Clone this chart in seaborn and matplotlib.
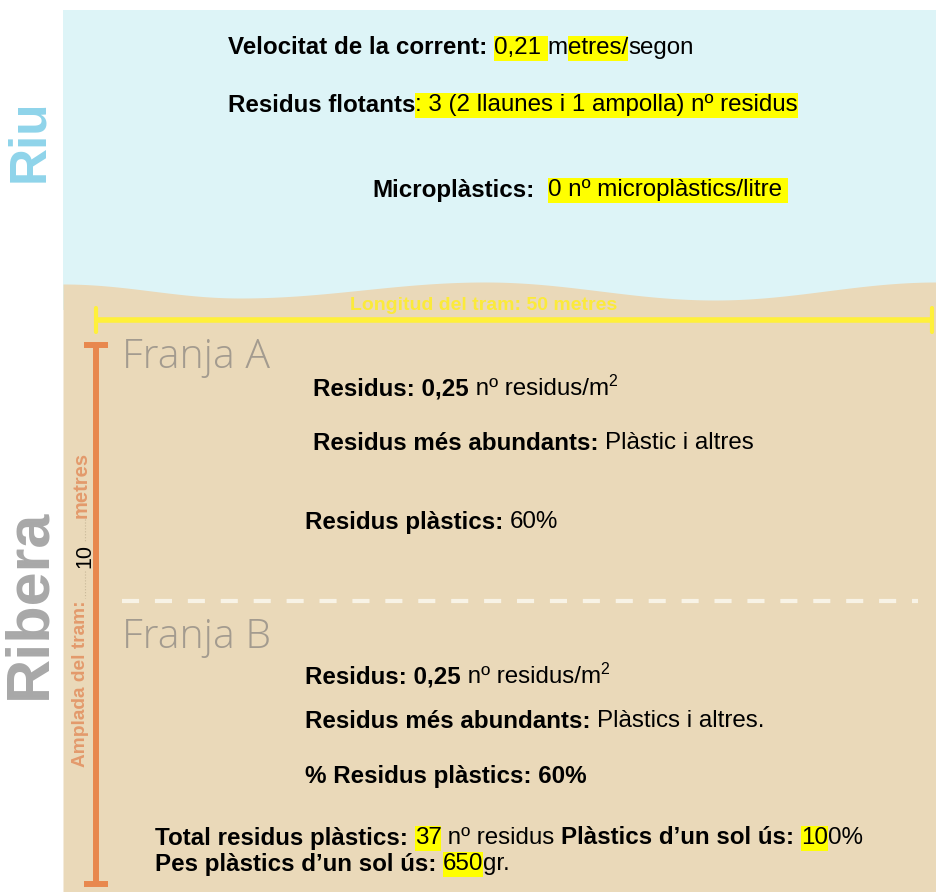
import matplotlib
matplotlib.use("Agg")
import matplotlib.pyplot as plt
import numpy as np
import pandas as pd
import seaborn as sns
from matplotlib.patches import Rectangle
from matplotlib.font_manager import FontProperties

# ---------------- data (text content of the infographic) ----------------
section_labels = ["Riu", "Ribera"]
strip_labels = ["Franja A", "Franja B"]
length_label = "Longitud del tram: 50 metres"
width_label = ["Amplada del tram:", "10", "metres"]

velocitat_value = "0,21"
residus_flotants_value = ": 3 (2 llaunes i 1 ampolla) nº residus"
microplastics_value = "0 nº microplàstics/litre"

franja_a_residus = "0,25"
franja_a_abundants = "Plàstic i altres"
franja_a_plastics = "60%"

franja_b_residus = "0,25"
franja_b_abundants = "Plàstics i altres."
franja_b_plastics = "60%"

total_plastics = "37"
single_use_pct = ["10", "0%"]
single_use_weight = "650"

# ---------------- setup ----------------
sns.set_theme(style="white")
FAMILY = ['Liberation Sans', 'DejaVu Sans']
plt.rcParams['font.family'] = FAMILY

W, H = 937, 892
fig = plt.figure(figsize=(W / 100, H / 100), dpi=100)
fig.patch.set_facecolor('white')
ax = fig.add_axes([0, 0, 1, 1])
ax.set_xlim(0, W)
ax.set_ylim(H, 0)
ax.axis('off')

BLUE = '#ddf4f7'
SAND = '#ead9b9'
YELLOW = '#ffff00'
BODY = 17.4
DY = 2

# river
ax.add_patch(Rectangle((63, 10), W - 63, 300, facecolor=BLUE, edgecolor='none', zorder=0))
# sand with wavy top
nodes_x = [63, 240, 485, 715, 937]
nodes_y = [284, 298, 282, 300, 282]
xs, ys = [], []
for i in range(len(nodes_x) - 1):
    t = np.linspace(0, 1, 80)
    xs.append(nodes_x[i] + (nodes_x[i + 1] - nodes_x[i]) * t)
    ys.append(nodes_y[i] + (nodes_y[i + 1] - nodes_y[i]) * (1 - np.cos(np.pi * t)) / 2)
xs = np.concatenate(xs)
ys = np.concatenate(ys)
ax.fill_between(xs, ys, H, color=SAND, linewidth=0, zorder=1)

renderer = fig.canvas.get_renderer()


def text_width(s, size, weight):
    fp = FontProperties(family=FAMILY, size=size, weight=weight)
    w1, _, _ = renderer.get_text_width_height_descent(s + '|', fp, ismath=False)
    w2, _, _ = renderer.get_text_width_height_descent('|', fp, ismath=False)
    return w1 - w2


def draw_runs(x, y, parts, size=BODY):
    y = y + DY
    for p in parts:
        text, bold = p[0], p[1]
        hl = p[2] if len(p) > 2 else False
        sup = p[3] if len(p) > 3 else False
        weight = 'bold' if bold else 'normal'
        fs = size * 0.66 if sup else size
        yy = y - 8 if sup else y
        w = text_width(text, fs, weight)
        if hl:
            ax.add_patch(Rectangle((x, y - 12), w, 25, facecolor=YELLOW,
                                   edgecolor='none', zorder=3))
        ax.text(x, yy, text, fontsize=fs, fontweight=weight, color='black',
                ha='left', va='center', zorder=4)
        x += w


# ---------------- river texts ----------------
draw_runs(228, 46, [("Velocitat de la corrent: ", True), (velocitat_value + " ", False, True),
                    ("m", False), ("etres/", False, True), ("segon", False)])
draw_runs(228, 103, [("Residus flotants", True), (residus_flotants_value, False, True)])
draw_runs(372, 188, [("Microplàstics:", True), ("  ", False),
                     (microplastics_value + " ", False, True)])

# ---------------- left side labels ----------------
ax.text(30, 141, section_labels[0], rotation=90, fontsize=37, fontweight='bold',
        color='#8fd4ea', ha='center', va='center', zorder=4)
ax.text(30, 604, section_labels[1], rotation=90, fontsize=44, fontweight='bold',
        color='#a8a8a8', ha='center', va='center', zorder=4)

# ---------------- yellow length arrow ----------------
ax.plot([96, 932], [320, 320], color='#fff03a', lw=4, solid_capstyle='butt', zorder=3)
ax.plot([96, 96], [308, 332], color='#fff03a', lw=3, zorder=3)
ax.plot([932, 932], [308, 332], color='#fff03a', lw=3, zorder=3)
ax.text(484, 306, length_label, fontsize=14, fontweight='bold', color='#fbea3a',
        ha='center', va='center', zorder=4)

# ---------------- orange width arrow ----------------
ax.plot([96, 96], [345, 884], color='#e8884e', lw=4.3, solid_capstyle='butt', zorder=3)
ax.plot([84, 108], [345, 345], color='#e8884e', lw=4.3, solid_capstyle='butt', zorder=3)
ax.plot([84, 108], [884, 884], color='#e8884e', lw=4.3, solid_capstyle='butt', zorder=3)
ax.text(81, 684, width_label[0], rotation=90, fontsize=13.8, fontweight='bold',
        color='#e39a6c', ha='center', va='center', zorder=4)
ax.text(85, 556, width_label[1], rotation=90, fontsize=15.5, color='black',
        ha='center', va='center', zorder=4)
ax.text(81, 485, width_label[2], rotation=90, fontsize=14.5, fontweight='bold',
        color='#e39a6c', ha='center', va='center', zorder=4)
ax.plot([85, 85], [519, 541], color='#c8b898', lw=0.8, linestyle=':', zorder=3)
ax.plot([85, 85], [571, 598], color='#c8b898', lw=0.8, linestyle=':', zorder=3)

# ---------------- dashed divider ----------------
div = pd.DataFrame({"x": [122, 918], "y": [601, 601]})
sns.lineplot(data=div, x="x", y="y", ax=ax, color='#f8f3e6', linewidth=3, zorder=3)
ax.lines[-1].set_linestyle((0, (4.1, 3.8)))
ax.set_xlim(0, W)
ax.set_ylim(H, 0)
ax.axis('off')

# ---------------- strips ----------------
for lab, yy in zip(strip_labels, [358, 637]):
    ax.text(122, yy, lab, fontsize=29.5, family=['Open Sans', 'DejaVu Sans'], fontweight='light',
            color='#a39b8f', ha='left', va='center', zorder=4)

draw_runs(313, 387, [("Residus: " + franja_a_residus, True), (" nº residus/m", False),
                     ("2", False, False, True)])
draw_runs(313, 441, [("Residus més abundants: ", True), (franja_a_abundants, False)])
draw_runs(305, 520, [("Residus plàstics: ", True), (franja_a_plastics, False)])

draw_runs(305, 675, [("Residus: " + franja_b_residus, True), (" nº residus/m", False),
                     ("2", False, False, True)])
draw_runs(305, 719, [("Residus més abundants: ", True), (franja_b_abundants, False)])
draw_runs(305, 775, [("% Residus plàstics: " + franja_b_plastics, True)])

draw_runs(155, 836, [("Total residus plàstics: ", True), (total_plastics, False, True),
                     (" nº residus ", False), ("Plàstics d’un sol ús: ", True),
                     (single_use_pct[0], False, True), (single_use_pct[1], False)])
draw_runs(155, 862, [("Pes plàstics d’un sol ús: ", True), (single_use_weight, False, True),
                     ("gr.", False)])

fig.savefig("out.png", dpi=100, facecolor='white')
